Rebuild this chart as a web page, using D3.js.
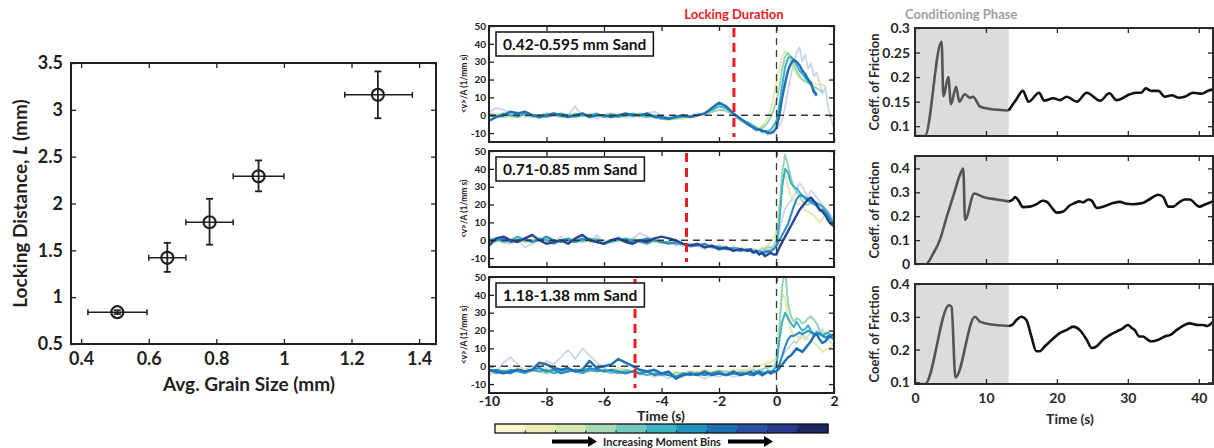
<!DOCTYPE html>
<html>
<head>
<meta charset="utf-8">
<script src="https://cdn.jsdelivr.net/npm/d3@7"></script>
<style>
  body { margin: 0; background: #fff; }
  svg { display: block; font-family: Lato, 'Open Sans', sans-serif; font-weight: 700; }
</style>
</head>
<body>
<svg id="fig" width="1214" height="448"></svg>
<script>
// ---------- left panel: locking distance vs grain size ----------
var grainSize = [0.507, 0.655, 0.78, 0.925, 1.278];
var grainLo   = [0.42, 0.60, 0.71, 0.85, 1.18];
var grainHi   = [0.595, 0.71, 0.85, 1.00, 1.38];
var lockDist  = [0.84, 1.42, 1.80, 2.29, 3.16];
var lockLo    = [0.82, 1.27, 1.56, 2.13, 2.91];
var lockHi    = [0.86, 1.58, 2.05, 2.46, 3.41];

// ---------- middle panels: <v>/A around slip ----------
var sandLabels = ['0.42-0.595 mm Sand', '0.71-0.85 mm Sand', '1.18-1.38 mm Sand'];
var lockTimes = [-1.48, -3.13, -4.92];
var times = [-10,-9.75,-9.5,-9.25,-9,-8.75,-8.5,-8.25,-8,-7.75,-7.5,-7.25,-7,-6.75,-6.5,-6.25,-6,-5.75,-5.5,-5.25,-5,-4.75,-4.5,-4.25,-4,-3.75,-3.5,-3.25,-3,-2.75,-2.5,-2.25,-2,-1.75,-1.5,-1.25,
  -1,-0.9,-0.8,-0.7,-0.6,-0.5,-0.4,-0.3,-0.2,-0.1,0,0.1,0.2,0.3,0.4,0.5,0.6,0.7,0.8,0.9,1,1.1,1.2,1.3,1.4,1.5,1.6,1.7,1.8,1.9,2];

// sand 0.42-0.595
var s1Pale   = [2,4,3,1,2,-1,0,-2,1,0,-1,0,5,-1,1,-2,0,1,-1,0,-1,0,1,2,0,-1,0,-1,0,1,0,2,3,2,0,-3,
  -5,-6,-8,-9,-8,-10,-9,-11,-9,-10,-8,-6,-3,5,14,22,30,35,38,30,34,26,29,22,24,18,12,16,4,-2,-8];
var s1Yellow = [0,1,0,-1,0,1,0,-1,0,1,0,0,-1,0,1,0,-1,0,0,1,0,-1,0,-1,-2,-3,-2,-2,-1,0,1,2,3,3,1,-2,
  -4,-5,-6,-7,-7,-6,-4,-1,3,10,18,26,33,36,33,30,26,23,21,20,19,19,18,18,17,18,17,16,null,null,null];
var s1Green  = [1,0,-1,0,1,0,-1,0,1,0,-1,0,1,0,-1,0,0,1,0,-1,0,1,0,-1,-2,-2,-2,-1,-1,0,1,2,3,3,0,-3,
  -5,-6,-7,-8,-8,-7,-6,-4,-1,3,8,16,26,33,35,32,28,25,22,20,19,18,17,16,15,14,13,null,null,null,null];
var s1Teal   = [0,-1,1,0,-1,1,0,0,-1,0,1,0,-1,0,0,1,-1,0,-1,0,1,0,-1,0,-2,-2,-1,-1,-1,0,1,3,5,4,1,-2,
  -4,-5,-6,-7,-8,-8,-9,-9,-8,-6,-3,6,17,27,32,33,31,28,25,23,21,19,17,14,12,null,null,null,null,null,null];
var s1Blue   = [-3,-1,0,2,1,2,0,-1,0,1,0,-1,0,1,-1,0,0,-1,0,1,0,0,1,-1,-1,-2,-1,0,-1,0,1,4,7,5,1,-2,
  -5,-6,-7,-8,-8,-9,-9,-10,-10,-9,-7,0,10,18,25,29,31,30,28,25,23,20,18,13,11,null,null,null,null,null,null];

// sand 0.71-0.85
var s2Pale   = [-3,1,-1,-2,0,-4,-2,1,0,-1,2,-2,0,1,-1,3,-1,0,2,-1,1,4,2,0,-2,-1,-3,-2,-4,-3,-5,-3,-6,-4,-5,-6,
  -5,-7,-6,-8,-6,-7,-5,-6,-4,-5,-3,5,12,18,20,22,25,28,32,30,27,24,28,26,24,22,20,18,16,14,12];
var s2Yellow = [0,-1,1,0,-1,0,1,0,-1,0,0,-1,1,0,-1,0,0,-1,0,1,0,-1,0,-1,-2,-1,-2,-2,-3,-2,-3,-3,-4,-4,-5,-4,
  -5,-5,-6,-5,-5,-4,-4,-3,-1,1,5,20,35,38,30,25,22,21,20,19,17,16,15,14,12,10,12,16,null,null,null];
var s2Green  = [1,0,-1,0,1,-1,0,0,1,-1,0,1,0,-1,0,1,-1,0,0,-1,1,0,-1,0,-1,-2,-1,-3,-2,-3,-3,-4,-3,-4,-5,-5,
  -5,-6,-5,-6,-6,-5,-5,-4,-4,-3,0,15,38,48,42,35,30,27,25,22,20,20,21,22,21,20,18,17,15,null,null];
var s2Teal   = [0,1,-1,0,2,0,-1,1,0,-2,0,1,-1,0,1,0,-2,-1,0,1,0,-1,-2,0,-1,-1,-2,-2,-3,-2,-4,-3,-4,-5,-4,-5,
  -6,-5,-7,-6,-6,-7,-6,-7,-6,-5,-3,10,30,40,38,32,30,29,27,25,23,22,21,20,21,20,19,17,15,12,10];
var s2Blue   = [-2,0,1,-1,0,1,-1,0,2,0,-1,0,-1,1,0,-1,-2,0,1,0,-1,0,1,0,-1,-2,-1,-2,-3,-3,-2,-4,-4,-5,-5,-6,
  -5,-6,-7,-6,-8,-7,-7,-6,-6,-5,-3,0,3,6,9,14,19,23,25,25,24,23,22,21,19,17,17,16,13,11,9];
var s2Navy   = [-3,1,2,0,-1,1,3,0,-2,-1,0,-2,1,3,0,-1,-2,0,1,-1,-2,0,-1,1,2,1,0,-2,-3,-2,-4,-3,-5,-4,-6,-5,
  -6,-5,-7,-6,-8,-7,-9,-8,-7,-8,-8,-4,-1,2,5,8,11,14,17,19,21,23,24,22,20,17,16,14,11,9,8];

// sand 1.18-1.38
var s3Pale   = [-5,-3,2,5,1,-2,0,-1,3,1,5,9,4,10,6,2,-1,-3,-2,-4,-3,-5,-4,-6,-5,-7,-5,-6,-4,-5,-7,-5,-6,-4,-6,-5,
  -4,-5,-3,-4,-5,-3,-4,-2,-3,-2,-1,2,5,8,10,12,14,13,16,18,15,17,19,16,20,18,21,17,15,13,12];
var s3Yellow = [-2,-3,-2,-3,-1,-2,-3,-2,-1,-2,-3,-2,-2,-1,-2,-3,-2,-2,-1,-2,-3,-3,-4,-3,-4,-4,-3,-4,-3,-3,-2,-3,-2,-3,-2,-2,
  -2,-1,-1,0,0,1,1,2,2,3,5,25,40,38,28,20,18,17,15,16,17,15,14,13,12,10,8,9,10,11,12];
var s3Green  = [-3,-2,-4,-3,-2,-3,-2,-3,-4,-3,-2,-3,-2,-3,-3,-2,-3,-4,-3,-2,-3,-4,-3,-4,-4,-5,-4,-4,-3,-4,-3,-4,-3,-3,-4,-3,
  -3,-3,-2,-3,-2,-2,-1,-1,0,0,2,20,45,55,35,28,25,27,26,24,25,27,28,26,24,20,18,19,18,17,16];
var s3Teal   = [-2,-4,-3,-2,-3,-4,-2,-3,-2,-4,-3,-2,-3,-4,-2,-3,-2,-3,-4,-3,-3,-4,-5,-4,-5,-4,-6,-5,-4,-5,-4,-5,-4,-5,-4,-5,
  -4,-5,-4,-3,-4,-3,-4,-3,-3,-2,0,15,25,30,27,24,22,25,22,20,21,23,20,18,18,19,17,18,19,17,18];
var s3BlueA  = [-3,-2,-3,-4,-2,-3,-2,-1,-3,-2,-4,-3,-2,-3,-1,-2,-3,-2,-3,-4,-3,-4,-3,-5,-4,-5,-6,-4,-5,-4,-5,-4,-3,-5,-4,-4,
  -4,-5,-4,-3,-4,-5,-4,-3,-4,-3,-3,1,6,11,15,17,17,18,19,18,19,20,19,18,19,18,17,16,17,16,15];
var s3BlueB  = [-2,-3,-4,-3,-2,-3,-2,2,1,-1,-2,-1,-3,-2,3,-1,0,1,4,2,0,-2,-3,-2,-4,-3,-7,-5,-4,-5,-3,-5,-4,-5,-3,-5,
  -4,-3,-5,-4,-3,-5,-4,-3,-4,-3,-3,-1,1,3,5,6,8,10,9,8,10,12,14,17,18,15,13,14,16,17,18];

// colour bar bins
var binColors = ['#fbf8d2','#ecedb2','#d5e9b4','#a8dab8','#72c8bd','#3eb3c6','#2393bf','#1f70b1','#2852a1','#273a8a','#1c2760'];

// ---------- right panels: friction coefficient ----------
var conditionEnd = 13.2;
var fricA = [[0,0.08],[1.4,0.08],[3.75,0.272],[4.0,0.161],[4.7,0.20],[5.07,0.145],[5.8,0.18],[6.25,0.15],[7.0,0.165],[7.75,0.158],[8.2,0.16],[8.7,0.15],[9.15,0.14],[10.6,0.135],[13.2,0.132],
  [14.3,0.155],[15.2,0.172],[16.0,0.15],[17.5,0.168],[18.2,0.152],[19.5,0.157],[20.4,0.153],[21.4,0.16],[22.8,0.15],[24.2,0.168],[26.1,0.152],[27.4,0.167],[28.4,0.153],[30.3,0.165],[31.2,0.168],[31.9,0.168],[32.5,0.177],[33.3,0.172],[34.3,0.172],[35.2,0.16],[36.2,0.163],[37.1,0.158],[38.0,0.16],[39.2,0.168],[40.4,0.166],[41.3,0.172],[42,0.175]];
var fricB = [[0,-0.02],[1.65,0],[2.5,0.04],[3.5,0.10],[4.5,0.20],[5.4,0.285],[6.3,0.37],[6.8,0.40],[7.05,0.185],[8.35,0.295],[9.6,0.28],[11.5,0.27],[13.2,0.262],
  [13.8,0.27],[14.1,0.28],[14.6,0.265],[15.2,0.238],[16.2,0.24],[17.1,0.25],[18.0,0.265],[18.6,0.26],[19.3,0.235],[20.0,0.215],[20.9,0.22],[21.8,0.245],[22.5,0.255],[23.2,0.262],[23.7,0.258],[24.4,0.27],[24.9,0.265],[25.6,0.235],[26.5,0.24],[27.9,0.255],[28.9,0.26],[29.8,0.252],[30.7,0.25],[32.1,0.255],[33.0,0.27],[34.3,0.29],[35.0,0.28],[35.7,0.24],[36.4,0.24],[37.1,0.255],[38.0,0.27],[38.7,0.27],[40.1,0.24],[40.8,0.248],[42,0.262]];
var fricC = [[0,0.095],[1.4,0.095],[4.8,0.335],[5.15,0.33],[5.7,0.115],[8.45,0.30],[9.15,0.285],[10.6,0.277],[13.2,0.272],
  [13.7,0.275],[14.3,0.29],[15.0,0.30],[15.7,0.29],[16.4,0.24],[17.1,0.195],[17.6,0.195],[18.3,0.21],[19.3,0.23],[20.4,0.25],[21.4,0.26],[22.3,0.27],[23.2,0.26],[24.2,0.23],[24.9,0.205],[25.6,0.21],[26.5,0.23],[27.5,0.245],[28.4,0.255],[29.3,0.265],[30.0,0.275],[30.6,0.265],[30.95,0.26],[31.6,0.24],[32.1,0.24],[32.8,0.23],[33.3,0.225],[34.3,0.23],[35.2,0.24],[36.0,0.245],[36.9,0.26],[38.0,0.275],[38.7,0.28],[39.9,0.275],[40.6,0.275],[41.2,0.272],[42,0.285]];

var svg = d3.select('#fig');
var fmt = d3.format('~g');

// box with inward ticks on all four sides (matlab style)
function boxAxes(g, x, y, w, h, o) {
  var tl = o.tickLen || 5;
  var axes = [
    g.append('g').attr('transform', 'translate(0,' + h + ')')
      .call(d3.axisBottom(x).tickValues(o.xt).tickSize(-tl).tickPadding(o.xpad || 6).tickFormat(o.xfmt || function () { return ''; })),
    g.append('g').call(d3.axisTop(x).tickValues(o.xt).tickSize(-tl).tickFormat('')),
    g.append('g').call(d3.axisLeft(y).tickValues(o.yt).tickSize(-tl).tickPadding(o.ypad || 6).tickFormat(o.yfmt || function () { return ''; })),
    g.append('g').attr('transform', 'translate(' + w + ',0)')
      .call(d3.axisRight(y).tickValues(o.yt).tickSize(-tl).tickFormat(''))
  ];
  axes.forEach(function (a, i) {
    a.attr('font-family', null).attr('font-size', null);
    a.select('.domain').remove();
    a.selectAll('line').attr('stroke', o.color).attr('stroke-width', 1.3);
    a.selectAll('text').attr('fill', o.color).style('font-size', (i == 2 ? o.yfs : o.xfs) + 'px');
  });
  g.append('rect').attr('width', w).attr('height', h)
    .attr('fill', 'none').attr('stroke', o.color).attr('stroke-width', o.sw || 2);
}

// ================= left panel =================
(function () {
  var w = 365, h = 281;
  var g = svg.append('g').attr('transform', 'translate(71,63)');
  var x = d3.scaleLinear().domain([0.37, 1.45]).range([0, w]);
  var y = d3.scaleLinear().domain([0.5, 3.5]).range([h, 0]);
  var ink = '#231f20';

  boxAxes(g, x, y, w, h, {
    xt: [0.4, 0.6, 0.8, 1, 1.2, 1.4], yt: [0.5, 1, 1.5, 2, 2.5, 3, 3.5],
    xfmt: fmt, yfmt: fmt, xfs: 18, yfs: 18, xpad: 8, ypad: 8, color: ink, sw: 2
  });

  var pts = grainSize.map(function (d, i) {
    return { x: d, y: lockDist[i], xl: grainLo[i], xh: grainHi[i], yl: lockLo[i], yh: lockHi[i] };
  });
  var e = g.append('g').attr('stroke', ink).attr('fill', 'none');
  pts.forEach(function (p) {
    var cy = y(p.y), cx = x(p.x);
    e.append('line').attr('x1', x(p.xl)).attr('x2', x(p.xh)).attr('y1', cy).attr('y2', cy).attr('stroke-width', 1.5);
    [p.xl, p.xh].forEach(function (v) {
      e.append('line').attr('x1', x(v)).attr('x2', x(v)).attr('y1', cy - 3).attr('y2', cy + 3).attr('stroke-width', 1.5);
    });
    e.append('line').attr('x1', cx).attr('x2', cx).attr('y1', y(p.yl)).attr('y2', y(p.yh)).attr('stroke-width', 1.8);
    [p.yl, p.yh].forEach(function (v) {
      e.append('line').attr('x1', cx - 3.5).attr('x2', cx + 3.5).attr('y1', y(v)).attr('y2', y(v)).attr('stroke-width', 1.8);
    });
    e.append('circle').attr('cx', cx).attr('cy', cy).attr('r', 6).attr('stroke-width', 2.2);
  });

  g.append('text').attr('x', 178).attr('y', 328).attr('text-anchor', 'middle')
    .attr('fill', ink).style('font-size', '19px').text('Avg. Grain Size (mm)');
  var yl = g.append('text').attr('transform', 'translate(-44,' + (h / 2) + ') rotate(-90)')
    .attr('text-anchor', 'middle').attr('fill', ink).style('font-size', '19px');
  yl.append('tspan').text('Locking Distance, ');
  yl.append('tspan').attr('font-style', 'italic').text('L');
  yl.append('tspan').text(' (mm)');
})();

// ================= middle panels =================
(function () {
  var left = 489, w = 345, h = 116, tops = [26, 151, 277];
  var x = d3.scaleLinear().domain([-10, 2]).range([0, w]);
  var y = d3.scaleLinear().domain([-15, 50]).range([h, 0]);
  var panels = [
    [[s1Pale, 'pale'], [s1Yellow, 'yellow'], [s1Green, 'green'], [s1Teal, 'teal'], [s1Blue, 'blue']],
    [[s2Pale, 'pale'], [s2Yellow, 'yellow'], [s2Green, 'green'], [s2Teal, 'teal'], [s2Blue, 'blueA'], [s2Navy, 'navy']],
    [[s3Pale, 'pale'], [s3Yellow, 'yellow'], [s3Green, 'green'], [s3Teal, 'teal'], [s3BlueA, 'blueA'], [s3BlueB, 'blue']]
  ];
  var style = {
    pale:   { c: '#c3cfe8', w: 1.8, o: 0.85 },
    yellow: { c: '#e4e8a6', w: 2.0, o: 0.95 },
    green:  { c: '#96d3b4', w: 2.0, o: 0.95 },
    teal:   { c: '#3db0c8', w: 2.0, o: 1 },
    blueA:  { c: '#2a8cc0', w: 2.1, o: 1 },
    blue:   { c: '#1f72b4', w: 2.5, o: 1 },
    navy:   { c: '#27479b', w: 2.4, o: 1 }
  };
  var line = d3.line()
    .defined(function (d) { return d[1] != null; })
    .x(function (d) { return x(d[0]); })
    .y(function (d) { return y(d[1]); });

  tops.forEach(function (top, k) {
    var g = svg.append('g').attr('transform', 'translate(' + left + ',' + top + ')');
    g.append('clipPath').attr('id', 'clipM' + k).append('rect').attr('width', w).attr('height', h);
    var plot = g.append('g').attr('clip-path', 'url(#clipM' + k + ')');

    panels[k].forEach(function (s) {
      var st = style[s[1]];
      plot.append('path')
        .datum(times.map(function (t, i) { return [t, s[0][i]]; }))
        .attr('d', line).attr('fill', 'none')
        .attr('stroke', st.c).attr('stroke-width', st.w).attr('stroke-opacity', st.o)
        .attr('stroke-linejoin', 'round');
    });

    plot.append('line').attr('x1', 0).attr('x2', w).attr('y1', y(0)).attr('y2', y(0))
      .attr('stroke', '#3a3a3a').attr('stroke-width', 1.3).attr('stroke-dasharray', '7,5');
    plot.append('line').attr('x1', x(0)).attr('x2', x(0)).attr('y1', 0).attr('y2', h)
      .attr('stroke', '#3a3a3a').attr('stroke-width', 1.3).attr('stroke-dasharray', '7,5');
    plot.append('line').attr('x1', x(lockTimes[k])).attr('x2', x(lockTimes[k]))
      .attr('y1', 2).attr('y2', h - 5)
      .attr('stroke', '#ed1c24').attr('stroke-width', 3).attr('stroke-dasharray', '9,6');

    boxAxes(g, x, y, w, h, {
      xt: [-10, -8, -6, -4, -2, 0, 2], yt: [-10, 0, 10, 20, 30, 40, 50],
      xfmt: k == 2 ? function (d) { return String(d); } : null,
      yfmt: function (d) { return String(d); },
      xfs: 14, yfs: 10, xpad: 3, ypad: 3, color: '#222', sw: 2
    });

    var lab = g.append('g').attr('transform', 'translate(7,6)');
    var t = lab.append('text').attr('x', 7).attr('y', 18).attr('fill', '#111')
      .style('font-size', '15.5px').text(sandLabels[k]);
    var tw = t.node().getComputedTextLength();
    lab.insert('rect', 'text').attr('width', tw + 14).attr('height', 24)
      .attr('fill', '#fff').attr('stroke', '#111').attr('stroke-width', 1.5);

    g.append('text').attr('transform', 'translate(-22,' + (h / 2) + ') rotate(-90)')
      .attr('text-anchor', 'middle').attr('fill', '#222').style('font-size', '8.5px')
      .text('<v>/A (1/mm s)');
  });

  svg.append('text').attr('x', left + x(lockTimes[0])).attr('y', 19).attr('text-anchor', 'middle')
    .attr('fill', '#ed1c24').style('font-size', '13px').text('Locking Duration');
  svg.append('text').attr('x', 661).attr('y', 421).attr('text-anchor', 'middle')
    .attr('fill', '#222').style('font-size', '14px').text('Time (s)');

  // colour bar
  var cb = d3.scaleBand().domain(d3.range(binColors.length)).range([495, 828]);
  var bar = svg.append('g');
  bar.selectAll('rect.bin').data(binColors).enter().append('rect')
    .attr('x', function (d, i) { return cb(i); }).attr('y', 424)
    .attr('width', cb.bandwidth() + 0.5).attr('height', 9).attr('fill', function (d) { return d; });
  bar.selectAll('line.tk').data(d3.range(1, binColors.length)).enter().append('line')
    .attr('x1', function (i) { return cb(i); }).attr('x2', function (i) { return cb(i); })
    .attr('y1', 430.5).attr('y2', 433).attr('stroke', '#111').attr('stroke-width', 1);
  bar.append('rect').attr('x', 495).attr('y', 424).attr('width', 333).attr('height', 9)
    .attr('fill', 'none').attr('stroke', '#111').attr('stroke-width', 1.3);

  [[552, 588], [728, 764]].forEach(function (a) {
    svg.append('line').attr('x1', a[0]).attr('x2', a[1]).attr('y1', 441.5).attr('y2', 441.5)
      .attr('stroke', '#000').attr('stroke-width', 4);
    svg.append('path').attr('d', 'M' + a[1] + ',436L' + (a[1] + 9) + ',441.5L' + a[1] + ',447Z').attr('fill', '#000');
  });
  svg.append('text').attr('x', 662).attr('y', 445.5).attr('text-anchor', 'middle')
    .attr('fill', '#222').style('font-size', '11px').text('Increasing Moment Bins');
})();

// ================= right panels =================
(function () {
  var left = 915, w = 298;
  var x = d3.scaleLinear().domain([0, 42]).range([0, w]);
  var panels = [
    { top: 28,  h: 108, dom: [0.08, 0.3],  yt: [0.1, 0.15, 0.2, 0.25, 0.3], data: fricA },
    { top: 156, h: 108, dom: [0, 0.452],   yt: [0, 0.1, 0.2, 0.3, 0.4],     data: fricB },
    { top: 284, h: 100, dom: [0.095, 0.4], yt: [0.1, 0.2, 0.3, 0.4],        data: fricC }
  ];
  panels.forEach(function (p, k) {
    var h = p.h;
    var y = d3.scaleLinear().domain(p.dom).range([h, 0]);
    var g = svg.append('g').attr('transform', 'translate(' + left + ',' + p.top + ')');
    g.append('rect').attr('width', x(conditionEnd)).attr('height', h).attr('fill', '#dcdcdc');
    g.append('clipPath').attr('id', 'clipR' + k).append('rect').attr('y', -2).attr('width', w).attr('height', h + 3);
    var plot = g.append('g').attr('clip-path', 'url(#clipR' + k + ')');
    var line = d3.line().curve(d3.curveMonotoneX)
      .x(function (d) { return x(d[0]); }).y(function (d) { return y(d[1]); });
    var pre = p.data.filter(function (d) { return d[0] <= conditionEnd; });
    var post = p.data.filter(function (d) { return d[0] >= conditionEnd; });
    plot.append('path').datum(pre).attr('d', line).attr('fill', 'none')
      .attr('stroke', '#555').attr('stroke-width', 2.6).attr('stroke-linejoin', 'round');
    plot.append('path').datum(post).attr('d', line).attr('fill', 'none')
      .attr('stroke', '#111').attr('stroke-width', 2.6).attr('stroke-linejoin', 'round');

    boxAxes(g, x, y, w, h, {
      xt: [0, 10, 20, 30, 40], yt: p.yt,
      xfmt: k == 2 ? fmt : null, yfmt: fmt,
      xfs: 14, yfs: 14, xpad: 9, ypad: 5, color: '#2a2a2a', sw: 2
    });
    g.append('text').attr('transform', 'translate(-36,' + (h / 2) + ') rotate(-90)')
      .attr('text-anchor', 'middle').attr('fill', '#2a2a2a').style('font-size', '13px')
      .text('Coeff. of Friction');
  });
  svg.append('text').attr('x', 905).attr('y', 19).attr('fill', '#a0a0a0')
    .style('font-size', '13px').text('Conditioning Phase');
  svg.append('text').attr('x', 1070).attr('y', 424).attr('text-anchor', 'middle')
    .attr('fill', '#2a2a2a').style('font-size', '14px').text('Time (s)');
})();
</script>
</body>
</html>
